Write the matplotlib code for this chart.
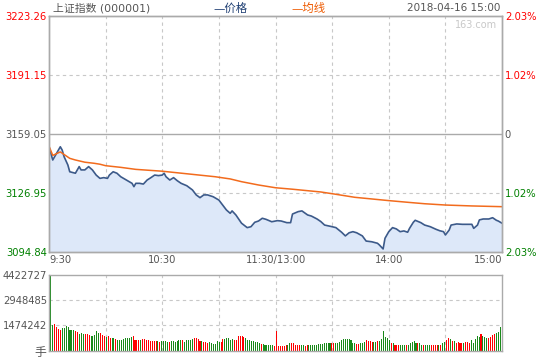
import numpy as np
import matplotlib.pyplot as plt

plt.rcParams["font.family"] = ["DejaVu Sans", "Noto Sans CJK SC"]

# axis values
price_ticks = [3094.84, 3126.95, 3159.05, 3191.15, 3223.26]
pct_labels = ["2.03%", "1.02%", "0", "1.02%", "2.03%"]
tick_colors = ["#008000", "#008000", "#555555", "#ff0000", "#ff0000"]
time_ticks = [0, 60, 120, 180, 240]
time_labels = ["9:30", "10:30", "11:30/13:00", "14:00", "15:00"]
vol_ticks = [1474242, 2948485, 4422727]

# price line, minutes from 9:30 (lunch collapsed)
price_min = [0, 2, 3, 5, 6, 7, 8, 10, 11, 14, 16, 17, 19, 21, 23, 25, 27, 29, 31, 32,
             34, 36, 38, 41, 44, 45, 46, 48, 50, 52, 54, 56, 58, 60, 61, 62, 64, 66, 68, 70,
             73, 76, 78, 80, 82, 84, 87, 90, 92, 94, 96, 97, 99, 102, 105, 107, 109, 111, 113, 115,
             118, 121, 123, 126, 128, 129, 132, 134, 137, 139, 142, 144, 146, 150, 152, 155, 157, 159, 161, 163,
             166, 168, 171, 174, 175, 177, 178, 180, 182, 184, 186, 188, 190, 191, 193, 194, 197, 199, 202, 205,
             207, 209, 210, 212, 213, 216, 219, 221, 224, 225, 227, 228, 230, 233, 235, 237, 238, 240]
price = [3152.1, 3144.9, 3146.7, 3150.3, 3152.1, 3150.3, 3146.7, 3142.2, 3138.5, 3137.7,
         3141.3, 3139.5, 3139.5, 3141.3, 3139.5, 3136.7, 3134.9, 3135.3, 3134.9, 3136.7,
         3138.5, 3137.7, 3135.8, 3134.0, 3132.2, 3130.4, 3132.2, 3132.2, 3131.8, 3134.0,
         3135.3, 3136.7, 3136.4, 3136.7, 3137.7, 3135.8, 3134.0, 3135.3, 3133.6, 3132.2,
         3130.9, 3128.6, 3125.9, 3124.4, 3125.9, 3125.9, 3124.9, 3123.1, 3120.4, 3117.7,
         3115.9, 3117.2, 3115.0, 3110.5, 3108.1, 3108.6, 3111.0, 3111.7, 3113.2, 3112.6,
         3111.3, 3111.9, 3111.7, 3110.8, 3110.8, 3115.5, 3116.8, 3117.2, 3115.0, 3114.4,
         3112.8, 3111.4, 3109.5, 3108.6, 3108.1, 3105.6, 3103.6, 3105.3, 3105.9, 3105.3,
         3103.6, 3100.8, 3100.4, 3099.6, 3098.7, 3096.5, 3102.3, 3105.9, 3108.1, 3107.4,
         3105.9, 3106.3, 3105.6, 3107.7, 3111.0, 3112.1, 3110.8, 3109.5, 3108.6, 3107.2,
         3106.4, 3105.9, 3104.1, 3106.8, 3109.5, 3110.1, 3109.9, 3109.9, 3109.9, 3107.7,
         3109.5, 3112.3, 3112.8, 3112.8, 3113.5, 3112.1, 3111.7, 3110.5]

# average price line
avg_min = [0, 2, 6, 9, 11, 14, 19, 24, 27, 30, 38, 46, 60, 74, 88, 96, 102, 111, 120,
           129, 144, 151, 162, 180, 191, 199, 210, 224, 240]
avg = [3152.5, 3147.4, 3149.3, 3147.2, 3145.8, 3144.9, 3143.7, 3143.1, 3142.6, 3141.8,
       3140.9, 3139.8, 3138.8, 3137.3, 3135.8, 3134.6, 3133.1, 3131.3, 3129.8, 3129.0,
       3127.5, 3126.4, 3124.6, 3122.8, 3121.8, 3121.1, 3120.4, 3119.9, 3119.5]

# volume per minute, thousands of lots; G = down, R = up
vol_k = [1470, 4423, 1510, 1530, 1360, 1280, 1220, 1320, 1320, 1450,
         1380, 1220, 1220, 1220, 1160, 1100, 970, 1010, 960, 960,
         960, 910, 870, 830, 910, 1120, 1010, 1010, 910, 870,
         790, 870, 740, 740, 740, 700, 620, 620, 620, 700,
         740, 740, 740, 790, 850, 640,
         621, 621, 621, 679, 679, 621, 601, 582, 582, 582,
         582, 582, 524, 563, 563, 563, 524, 524, 563, 563,
         485, 543, 621, 621, 601, 524, 621, 621, 621, 679,
         718, 737, 660, 563, 563, 524, 504, 466, 524, 466,
         407, 407, 563, 524, 524, 660, 679, 757, 718, 601,
         679, 621, 621, 854, 854, 854, 815, 737, 621, 621,
         563, 563, 485, 485, 427, 369, 369, 330, 330, 330,
         310,
         330, 272, 1144, 272, 272, 272, 291, 310, 310, 427,
         446, 427, 349, 330, 330, 330, 330, 272, 330, 330, 330,
         330, 330, 330, 369, 388, 388, 427, 427, 427, 427,
         427, 427, 427, 466, 504, 621, 679, 679, 660, 679, 621,
         427, 427, 369, 407, 427, 466, 524, 621, 582, 543,
         504, 504, 504, 543, 543, 679, 1144, 795, 718, 601,
         446, 446, 330, 330, 330, 330, 330, 330, 330, 330, 466,
         504, 563, 446, 446, 446, 330, 349, 330, 330, 330,
         330, 330, 330, 330, 330, 330, 446, 524, 601, 737, 660,
         563, 563, 446, 504, 446, 446, 446, 504, 504, 446, 621,
         446, 660, 873, 815, 970, 854, 815, 737, 737, 795,
         912, 989, 1009, 1106, 1377, 39]
vol_side = ("GGGRRRRGGGGGGGRRGGGRRRGGGGGRRRGRRGGRGGGGGGGGRR"
            "RRGRRRRRRRRGRGGGGRGGGGGGRGGGGGRRRRGRRRGGGGGGRRGGGGGRRRRRRGGGGG"
            "G"
            "GGRGGGGGGRRRRRRRGGRRRRRGGRRGGGGGGGGGGGGRR"
            "GGGGGGGGGGGRRGGGRRRRGGRGGGGGGRGRRRGGGRGGGGGRGGRGGGRRRRGRGGRRGRGRRRRGRRRGGGGGR")

RED = "#ff0000"
GREEN = "#1a8a1a"
GRID = "#c8c8c8"
SPINE = "#aaaaaa"
TXT = "#555555"

fig = plt.figure(figsize=(5.4, 3.6), dpi=100)
ax = fig.add_axes([0.0907, 0.3, 0.839, 0.6556])
axv = fig.add_axes([0.0907, 0.0258, 0.839, 0.2111])

# price panel
ax.fill_between(price_min, price, price_ticks[0], color="#dde8f9", lw=0)
ax.plot(price_min, price, color="#3c5a8a", lw=1.2)
ax.plot(avg_min, avg, color="#f26b1d", lw=1.1)
ax.set_xlim(0, 240)
ax.set_ylim(price_ticks[0], price_ticks[-1])
for t in range(30, 240, 30):
    ax.axvline(t, color=GRID, lw=0.8, ls=(0, (3, 3)), zorder=0)
for p in (price_ticks[1], price_ticks[3]):
    ax.axhline(p, color=GRID, lw=0.8, ls=(0, (3, 3)), zorder=0)
ax.axhline(price_ticks[2], color=SPINE, lw=1, zorder=0)

ax.set_yticks(price_ticks)
ax.set_yticklabels([f"{p:.2f}" for p in price_ticks])
for lab, c in zip(ax.get_yticklabels(), tick_colors):
    lab.set_color(c)
ax.set_xticks(time_ticks)
ax.set_xticklabels(time_labels)
xl = ax.get_xticklabels()
xl[0].set_ha("left")
xl[-1].set_ha("right")
ax.tick_params(axis="both", length=0, labelsize=7.2, pad=2)
ax.tick_params(axis="x", colors=TXT)
ax.tick_params(axis="y", pad=1.5)

axr = ax.twinx()
axr.set_ylim(price_ticks[0], price_ticks[-1])
axr.set_yticks(price_ticks)
axr.set_yticklabels(pct_labels)
for lab, c in zip(axr.get_yticklabels(), tick_colors):
    lab.set_color(c)
axr.tick_params(length=0, labelsize=7.2, pad=2)

for a in (ax, axr, axv):
    for s in a.spines.values():
        s.set_color(SPINE)
        s.set_linewidth(1)

ax.text(0.99, 0.985, "163.com", transform=ax.transAxes, ha="right", va="top",
        fontsize=7, color="#c8c8c8")

# volume panel
vx = np.linspace(0, 240, len(vol_k))
vcol = [RED if s == "R" else GREEN for s in vol_side[:len(vol_k)]]
axv.bar(vx, np.array(vol_k) * 1000, width=0.55, color=vcol, linewidth=0)
axv.set_xlim(0, 240)
axv.set_ylim(0, vol_ticks[-1])
for t in range(30, 240, 30):
    axv.axvline(t, color=GRID, lw=0.8, ls=(0, (3, 3)), zorder=0)
for v in vol_ticks[:2]:
    axv.axhline(v, color=GRID, lw=0.8, ls=(0, (3, 3)), zorder=0)
axv.set_xticks([])
axv.set_yticks(vol_ticks)
axv.set_yticklabels([str(v) for v in vol_ticks])
axv.tick_params(length=0, labelsize=7.2, colors=TXT, pad=1.5)
fig.text(0.085, 0.022, "手", ha="right", va="center", fontsize=8.5, color=TXT)

# header
fig.text(0.098, 0.978, "上证指数 (000001)", ha="left", va="center", fontsize=7.8, color=TXT)
fig.text(0.395, 0.978, "—价格", ha="left", va="center", fontsize=8.2, color="#1f3f73")
fig.text(0.54, 0.978, "—均线", ha="left", va="center", fontsize=8.2, color="#ee5a00")
fig.text(0.927, 0.978, "2018-04-16 15:00", ha="right", va="center", fontsize=7.5, color=TXT)

fig.savefig("out.png", dpi=100)
